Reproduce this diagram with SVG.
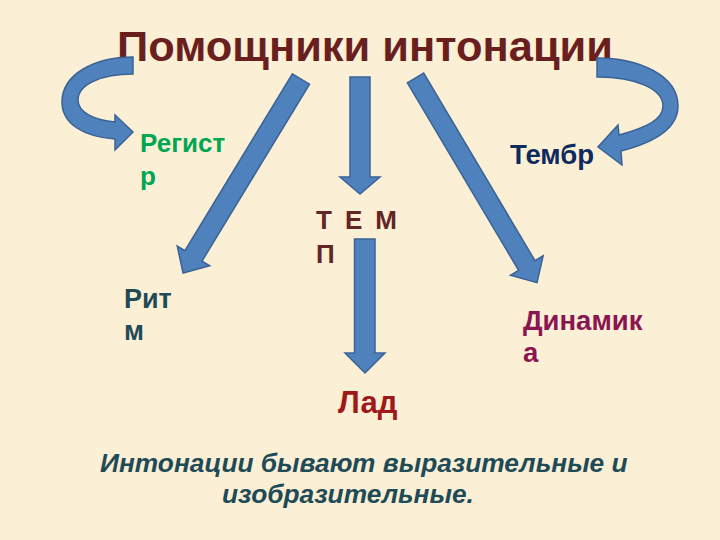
<svg xmlns="http://www.w3.org/2000/svg" width="720" height="540" viewBox="0 0 720 540">
<defs>
<style>
.t{font-family:"Liberation Sans",Arial,sans-serif;font-weight:bold}
.arr{fill:#4f81bd;stroke:#3a6395;stroke-width:1.5;stroke-linejoin:miter}
</style>
</defs>
<rect width="720" height="540" fill="#fbefd6"/>
<text class="t" x="117" y="61" font-size="43" fill="#6a1f1f" textLength="496" lengthAdjust="spacingAndGlyphs">Помощники интонации</text>
<g id="connectors">
<path class="arr" d="M133,57 L133,74 C102,74 78,84 78,100 C78,113 95,120 115,122 L115,115 L133,132 L115,150 L115,139 C84,137 62,124 62,102 C62,74 95,57 133,57 Z"/>
<path class="arr" d="M597,58 C640,58 678,76 678,106 C678,128 656,142 621,151 L622,165 L598,147 L618,125 L619,135 C645,128 663,120 663,106 C663,89 636,77 597,77 Z"/>
<path class="arr" transform="translate(301,79) rotate(31.3)" d="M-10,0 L10,0 L10,207 L19,207 L0,227 L-19,207 L-10,207 Z"/>
<path class="arr" transform="translate(415.5,78) rotate(-30.7)" d="M-9.5,0 L9.5,0 L9.5,218 L19,218 L0,238 L-19,218 L-9.5,218 Z"/>
<path class="arr" d="M350,77 L370,77 L370,177 L380,177 L360,194 L340,177 L350,177 Z"/>
<path class="arr" d="M354.5,239 L375,239 L375,353 L385,353 L365,373 L345,353 L354.5,353 Z"/>
</g>
<g id="registr"><text class="t" font-size="26" fill="#00a651"><tspan x="140" y="152">Регист</tspan><tspan x="140" y="185">р</tspan></text></g>
<g id="timbre"><text class="t" font-size="27.5" fill="#0f2a5c" x="510" y="164">Тембр</text></g>
<g id="tempo"><text class="t" font-size="26" fill="#632523"><tspan x="316" y="229" textLength="81">Т Е М</tspan><tspan x="316" y="263">П</tspan></text></g>
<g id="rhythm"><text class="t" font-size="27" fill="#1f4b57"><tspan x="124" y="308">Рит</tspan><tspan x="124" y="340">м</tspan></text></g>
<g id="dynamics"><text class="t" font-size="27.5" fill="#8a1550"><tspan x="523" y="330">Динамик</tspan><tspan x="523" y="362">а</tspan></text></g>
<g id="lad"><text class="t" font-size="31" fill="#a01818" x="338" y="413">Лад</text></g>
<text class="t" font-size="26.3" font-style="italic" fill="#1f4b57"><tspan x="100" y="472">Интонации бывают выразительные и</tspan><tspan x="222" y="503">изобразительные.</tspan></text>
</svg>
